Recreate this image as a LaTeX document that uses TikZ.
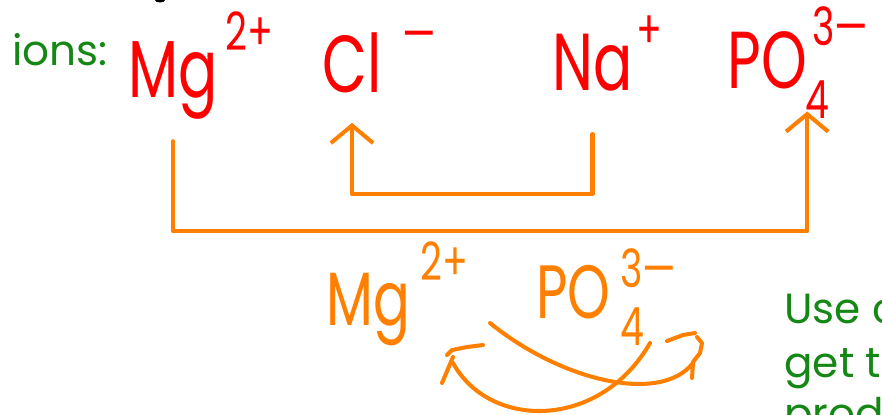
\documentclass[tikz,border=0pt]{standalone}
\usepackage{fontspec}
\setmainfont{Poppins}
\newfontfamily\handfont[FakeStretch=0.72]{Poppins}
\usetikzlibrary{arrows.meta, positioning}

\definecolor{penred}{RGB}{255,0,0}
\definecolor{penorange}{RGB}{255,128,0}
\definecolor{notegreen}{RGB}{20,135,20}

\tikzset{
  ion/.style={inner sep=0pt, anchor=base west, text=penred, font=\handfont\fontsize{46}{50}\selectfont},
  charge/.style={inner sep=0pt, anchor=base west, text=penred, font=\handfont\fontsize{30}{32}\selectfont},
  note/.style={inner sep=0pt, anchor=base west, text=notegreen, font=\fontsize{24}{28}\selectfont},
  pen/.style={draw=penorange, line width=2.3pt, line cap=round, line join=round},
  link/.style={pen, -{Straight Barb[length=10pt, width=24pt]}}
}

\begin{document}
\begin{tikzpicture}[x=0.02cm, y=-0.02cm]
    \clip (0,0) rectangle (882,414);
    \fill (160,0) ellipse (5 and 2.5);

    % green notes
    \node[note] (ions) at (12,65) {ions:};
    \node[note] (use) at (784,323) {Use c};
    \node[note] (get) at (784,377) {get th};
    \node[note] (prod) at (784,428) {prod};

    % ions in red
    \node[ion] (mg) at (128,97) {Mg};
    \node[charge] (mgq) at (225,50) {2+};
    \node[ion] (cl) at (322,92) {Cl};
    \node[charge] (clq) at (402,52) {—};
    \node[ion] (na) at (552,90) {Na};
    \node[charge] (naq) at (636,48) {+};
    \node[ion] (po) at (727,88) {PO};
    \node[charge] (pos) at (805,118) {4};
    \node[charge] (poq) at (812,45) {3—};

    % product in orange
    \node[ion, text=penorange, font=\handfont\fontsize{43}{46}\selectfont] (mgp) at (326,325) {Mg};
    \node[charge, text=penorange] (mgpq) at (420,280) {2+};
    \node[ion, text=penorange, font=\handfont\fontsize{43}{46}\selectfont] (pop) at (536,318) {PO};
    \node[charge, text=penorange] (pops) at (620,345) {4};
    \node[charge, text=penorange] (popq) at (620,287) {3—};

    % swaps
    \draw[link, shorten >=0.6cm] (na.south) ++(0,43) -- ++(0,60) -| (cl.south);
    \draw[link, shorten >=0.45cm] (mg.south) ++(0,22) -- ++(0,90) -| (po.south east);

    % criss-cross strokes
    \draw[pen] (490,323) .. controls (560,380) and (660,405) .. (693,363);
    \draw[pen] (650,343) .. controls (600,430) and (490,430) .. (453,363);
    \draw[pen] (442,383) -- (453,357);
    \draw[pen] (447,355) -- (452,350) -- (467,347) -- (483,345);
    \draw[pen] (667,341) -- (683,335) -- (695,333);
    \draw[pen] (697,337) -- (702,343) -- (700,353) -- (693,362) -- (692,378);
\end{tikzpicture}
\end{document}
